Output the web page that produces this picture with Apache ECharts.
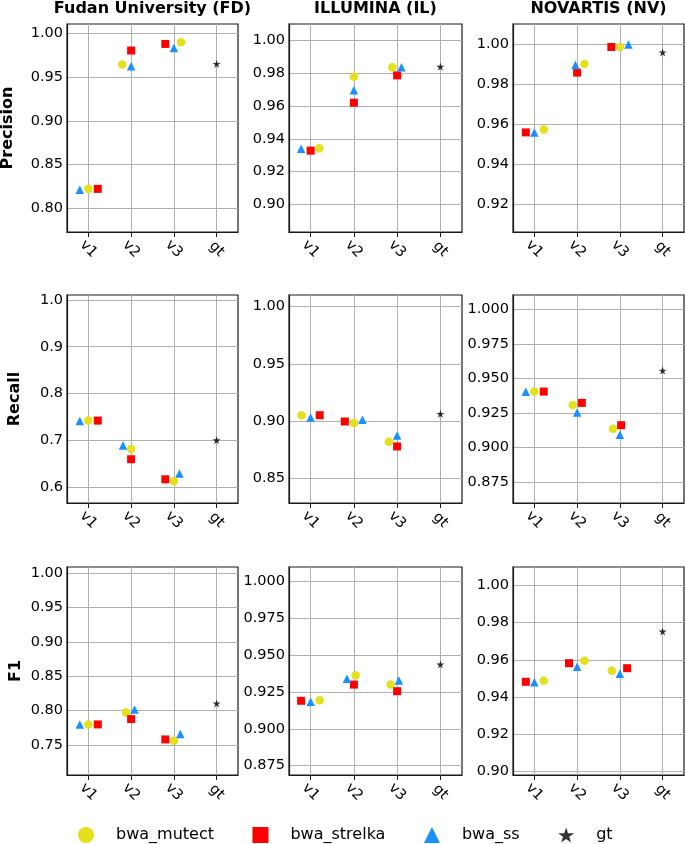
<!DOCTYPE html>
<html><head><meta charset="utf-8">
<script src="https://cdn.jsdelivr.net/npm/echarts@6/dist/echarts.min.js"></script>
<style>html,body{margin:0;padding:0;background:#fff}#c{width:685px;height:844px}</style>
</head><body><div id="c"></div>
<script>
const categories = ['v1', 'v2', 'v3', 'gt'];
const centers = ['Fudan University (FD)', 'ILLUMINA (IL)', 'NOVARTIS (NV)'];
const metrics = ['Precision', 'Recall', 'F1'];
const methods = ['bwa_mutect', 'bwa_strelka', 'bwa_ss'];

// values: [FD, IL, NV] x [v1, v2, v3]
const precision_mutect  = [[0.8225, 0.9640, 0.9894], [0.9342, 0.9780, 0.9837], [0.9572, 0.9900, 0.9985]];
const precision_strelka = [[0.8225, 0.9800, 0.9875], [0.9328, 0.9621, 0.9788], [0.9558, 0.9857, 0.9985]];
const precision_ss      = [[0.8215, 0.9620, 0.9830], [0.9340, 0.9697, 0.9837], [0.9557, 0.9895, 0.9998]];
const precision_gt      = [0.9647, 0.9841, 0.9958];

const recall_mutect  = [[0.7420, 0.6814, 0.6120], [0.9052, 0.8983, 0.8820], [0.9404, 0.9307, 0.9134]];
const recall_strelka = [[0.7420, 0.6593, 0.6164], [0.9052, 0.8997, 0.8779], [0.9404, 0.9322, 0.9160]];
const recall_ss      = [[0.7414, 0.6886, 0.6286], [0.9032, 0.9012, 0.8875], [0.9402, 0.9252, 0.9090]];
const recall_gt      = [0.7000, 0.9064, 0.9556];

const f1_mutect  = [[0.7800, 0.7974, 0.7563], [0.9194, 0.9364, 0.9300], [0.9488, 0.9595, 0.9541]];
const f1_strelka = [[0.7800, 0.7877, 0.7582], [0.9190, 0.9300, 0.9255], [0.9482, 0.9582, 0.9555]];
const f1_ss      = [[0.7800, 0.8017, 0.7660], [0.9183, 0.9339, 0.9328], [0.9479, 0.9563, 0.9525]];
const f1_gt      = [0.8105, 0.9436, 0.9752];

// horizontal jitter of each point (category units)
const jitter_precision_mutect  = [[0, -0.21, 0.17], [0.2, 0, -0.11], [0.22, 0.17, 0]];
const jitter_precision_strelka = [[0.22, 0, -0.2], [0, 0, 0], [-0.2, 0, -0.2]];
const jitter_precision_ss      = [[-0.2, 0, 0], [-0.22, 0, 0.1], [0, -0.04, 0.2]];
const jitter_recall_mutect  = [[0, 0, 0], [-0.21, 0, -0.19], [0, -0.1, -0.16]];
const jitter_recall_strelka = [[0.22, 0, -0.2], [0.21, -0.21, 0], [0.22, 0.11, 0.03]];
const jitter_recall_ss      = [[-0.2, -0.19, 0.13], [0, 0.2, 0], [-0.2, 0, 0]];
const jitter_f1_mutect  = [[0, -0.12, 0], [0.21, 0.04, -0.15], [0.22, 0.17, -0.19]];
const jitter_f1_strelka = [[0.22, 0, -0.2], [-0.22, 0, 0], [-0.2, -0.19, 0.17]];
const jitter_f1_ss      = [[-0.2, 0.08, 0.15], [0, -0.16, 0.04], [0, 0, 0]];

// y tick labels and ranges per panel
const yticks_precision = [['0.80','0.85','0.90','0.95','1.00'], ['0.90','0.92','0.94','0.96','0.98','1.00'], ['0.92','0.94','0.96','0.98','1.00']];
const yticks_recall    = [['0.6','0.7','0.8','0.9','1.0'], ['0.85','0.90','0.95','1.00'], ['0.875','0.900','0.925','0.950','0.975','1.000']];
const yticks_f1        = [['0.75','0.80','0.85','0.90','0.95','1.00'], ['0.875','0.900','0.925','0.950','0.975','1.000'], ['0.90','0.92','0.94','0.96','0.98','1.00']];
const yrange_precision = [[0.7734, 1.0102], [0.8831, 1.0102], [0.9060, 1.0100]];
const yrange_recall    = [[0.5657, 1.0107], [0.8285, 1.0102], [0.8596, 1.0104]];
const yrange_f1        = [[0.7065, 1.0087], [0.8687, 1.0097], [0.8982, 1.0098]];

const rows = [
  {vals: [precision_mutect, precision_strelka, precision_ss], gt: precision_gt,
   jit: [jitter_precision_mutect, jitter_precision_strelka, jitter_precision_ss], ticks: yticks_precision, range: yrange_precision},
  {vals: [recall_mutect, recall_strelka, recall_ss], gt: recall_gt,
   jit: [jitter_recall_mutect, jitter_recall_strelka, jitter_recall_ss], ticks: yticks_recall, range: yrange_recall},
  {vals: [f1_mutect, f1_strelka, f1_ss], gt: f1_gt,
   jit: [jitter_f1_mutect, jitter_f1_strelka, jitter_f1_ss], ticks: yticks_f1, range: yrange_f1}
];

const FONT = 'DejaVu Sans';
const colors = ['#e4e01b', '#ff0000', '#1a8fff', '#000000'];
const STAR = 'path://M100 0 L77.55 69.1 L4.89 69.1 L63.67 111.8 L41.22 180.9 L100 138.2 L158.78 180.9 L136.33 111.8 L195.11 69.1 L122.45 69.1 Z';
const symbols = ['circle', 'rect', 'triangle', STAR];
const symSizes = [8.5, 8, 8.5, 8];

const colLeft = [67, 289, 513];
const colWidth = [171, 173, 171];
const rowTop = [24, 295, 567];
const H = 208;

const grid = [], xAxis = [], yAxis = [], series = [];
let gi = 0;
rows.forEach((row, r) => {
  centers.forEach((cname, c) => {
    grid.push({left: colLeft[c], top: rowTop[r], width: colWidth[c], height: H,
      show: true, borderColor: '#1a1a1a', borderWidth: 1.2, backgroundColor: 'transparent',
      containLabel: false, outerBoundsMode: 'none'});
    xAxis.push({type: 'value', gridIndex: gi, min: -0.5, max: 3.5,
      axisLine: {show: true, onZero: false, lineStyle: {color: '#1a1a1a', width: 1.2}},
      axisTick: {show: true, length: 5, lineStyle: {color: '#1a1a1a', width: 1}, customValues: [0, 1, 2, 3]},
      axisLabel: {customValues: [0, 1, 2, 3], rotate: -45, align: 'center', verticalAlign: 'middle', margin: 17,
        fontFamily: FONT, fontSize: 14.5, color: '#000', formatter: v => categories[Math.round(v)]},
      splitLine: {show: true, lineStyle: {color: '#b0b0b0', width: 1}}});
    const ticks = row.ticks[c];
    const tv = ticks.map(Number);
    yAxis.push({type: 'value', gridIndex: gi, min: row.range[c][0], max: row.range[c][1],
      axisLine: {show: true, onZero: false, lineStyle: {color: '#1a1a1a', width: 1.2}},
      axisTick: {show: false, customValues: tv},
      axisLabel: {customValues: tv, margin: 4, fontFamily: FONT, fontSize: 14.5, color: '#000',
        formatter: v => { const i = tv.findIndex(t => Math.abs(t - v) < 1e-7); return i >= 0 ? ticks[i] : ''; }},
      splitLine: {show: true, lineStyle: {color: '#b0b0b0', width: 1}}});
    methods.forEach((m, k) => {
      series.push({type: 'scatter', name: m, xAxisIndex: gi, yAxisIndex: gi,
        symbol: symbols[k], symbolSize: symSizes[k], itemStyle: {color: colors[k], opacity: 1},
        data: row.vals[k][c].map((v, i) => [i + row.jit[k][c][i], v]), z: 3 + k});
    });
    series.push({type: 'scatter', name: 'gt', xAxisIndex: gi, yAxisIndex: gi,
      symbol: STAR, symbolSize: symSizes[3], itemStyle: {color: colors[3]},
      data: [[3, row.gt[c]]], z: 7});
    gi++;
  });
});

const graphic = [];
centers.forEach((t, c) => graphic.push({type: 'text', x: colLeft[c] + colWidth[c] / 2, y: 9,
  style: {text: t, fontFamily: FONT, fontSize: 16, fontWeight: 'bold', fill: '#000', align: 'center', verticalAlign: 'middle'}}));
const ylabX = [7.5, 15, 15.5];
metrics.forEach((t, r) => graphic.push({type: 'text', x: ylabX[r], y: rowTop[r] + H / 2, rotation: Math.PI / 2,
  style: {text: t, fontFamily: FONT, fontSize: 16, fontWeight: 'bold', fill: '#000', align: 'center', verticalAlign: 'middle'}}));

const chart = echarts.init(document.getElementById('c'), null, {renderer: 'canvas'});
chart.setOption({
  animation: false,
  backgroundColor: '#fff',
  grid, xAxis, yAxis, series, graphic,
  legend: {left: 78, top: 827, itemWidth: 16, itemHeight: 16, itemGap: 38.5, selectedMode: false, padding: 0,
    textStyle: {fontFamily: FONT, fontSize: 16, color: '#000', padding: [0, 0, 0, 17]},
    data: [{name: 'bwa_mutect', icon: 'circle'}, {name: 'bwa_strelka', icon: 'rect'},
           {name: 'bwa_ss', icon: 'triangle'}, {name: 'gt', icon: STAR}]}
});
</script></body></html>
